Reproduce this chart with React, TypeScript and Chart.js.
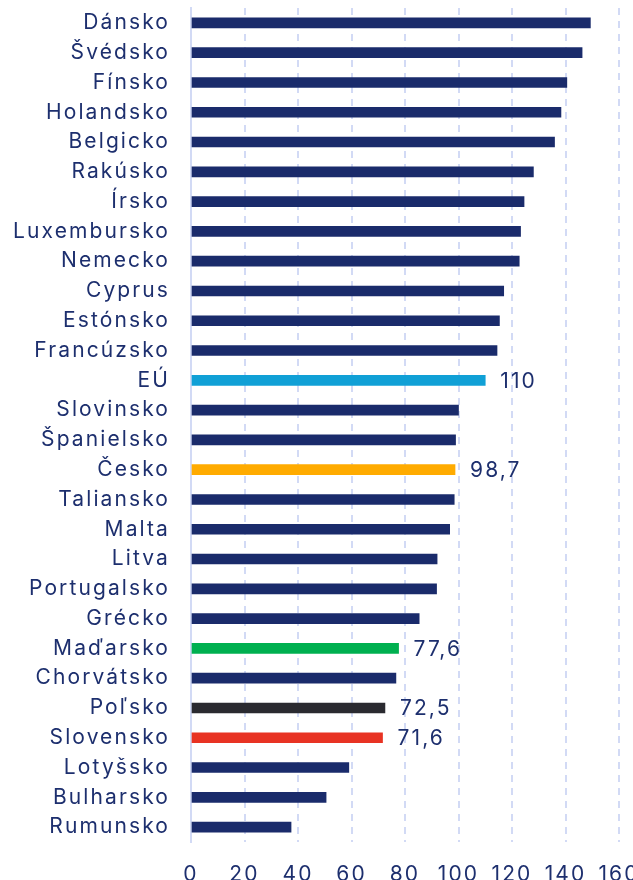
import React, { useEffect, useRef } from 'react';
import { Chart, registerables } from 'chart.js';

Chart.register(...registerables);

const categories = [
  'Dánsko', 'Švédsko', 'Fínsko', 'Holandsko', 'Belgicko', 'Rakúsko', 'Írsko',
  'Luxembursko', 'Nemecko', 'Cyprus', 'Estónsko', 'Francúzsko', 'EÚ', 'Slovinsko',
  'Španielsko', 'Česko', 'Taliansko', 'Malta', 'Litva', 'Portugalsko', 'Grécko',
  'Maďarsko', 'Chorvátsko', 'Poľsko', 'Slovensko', 'Lotyšsko', 'Bulharsko', 'Rumunsko',
];

const values = [
  149.3, 146.2, 140.5, 138.3, 135.9, 128.0, 124.5,
  123.2, 122.7, 116.9, 115.3, 114.4, 110, 100.0,
  98.9, 98.7, 98.4, 96.7, 92.0, 91.8, 85.3,
  77.6, 76.6, 72.5, 71.6, 59.0, 50.5, 37.4,
];

const labelledCategories = ['EÚ', 'Česko', 'Maďarsko', 'Poľsko', 'Slovensko'];

const xMin = 0;
const xMax = 160;
const xStep = 20;

const NAVY = '#1a2b6b';
const TEXT = '#1d2f6e';
const GRID = '#d2daf5';
const highlightColors: Record<string, string> = {
  'EÚ': '#10a0d6',
  'Česko': '#ffab00',
  'Maďarsko': '#00b050',
  'Poľsko': '#2a2a30',
  'Slovensko': '#e83323',
};

const FONT_FAMILY = 'Inter, "Noto Sans", sans-serif';
const FONT_SIZE = 21;
const LETTER_SPACING = '2.1px';

const fmt = (v: number) => (Number.isInteger(v) ? String(v) : v.toFixed(1).replace('.', ','));

const spacingPlugin = {
  id: 'spacing',
  beforeLayout(chart: any) {
    chart.ctx.letterSpacing = LETTER_SPACING;
  },
  beforeDraw(chart: any) {
    chart.ctx.letterSpacing = LETTER_SPACING;
  },
};

const valueLabelPlugin = {
  id: 'valueLabels',
  afterDatasetsDraw(chart: any) {
    const ctx = chart.ctx;
    const meta = chart.getDatasetMeta(0);
    ctx.save();
    ctx.letterSpacing = LETTER_SPACING;
    ctx.font = `${FONT_SIZE}px ${FONT_FAMILY}`;
    ctx.fillStyle = TEXT;
    ctx.textAlign = 'left';
    ctx.textBaseline = 'middle';
    categories.forEach((c, i) => {
      if (!labelledCategories.includes(c)) return;
      const el = meta.data[i];
      ctx.fillText(fmt(values[i]), el.x + 15, el.y + 1);
    });
    ctx.restore();
  },
};

export default function App() {
  const ref = useRef<HTMLCanvasElement | null>(null);

  useEffect(() => {
    if (!ref.current) return;
    const chart = new Chart(ref.current, {
      type: 'bar',
      data: {
        labels: categories,
        datasets: [
          {
            data: values,
            backgroundColor: categories.map((c) => highlightColors[c] || NAVY),
            barThickness: 10,
            borderWidth: 0,
          },
        ],
      },
      options: {
        indexAxis: 'y',
        animation: false,
        responsive: true,
        maintainAspectRatio: false,
        layout: { padding: { top: 8, right: 14, left: 0, bottom: 0 } },
        plugins: {
          legend: { display: false },
          tooltip: { enabled: false },
        },
        scales: {
          x: {
            min: xMin,
            max: xMax,
            ticks: {
              stepSize: xStep,
              color: TEXT,
              font: { family: FONT_FAMILY, size: FONT_SIZE },
              padding: 20,
              maxRotation: 0,
            },
            grid: { color: GRID, lineWidth: 2, drawTicks: false },
            border: { display: false, dash: [7, 6] },
            afterFit(scale: any) {
              scale.height = 38;
              scale.paddingLeft = 0;
              scale.paddingRight = 0;
            },
          },
          y: {
            ticks: {
              color: TEXT,
              font: { family: FONT_FAMILY, size: FONT_SIZE },
              padding: 21,
            },
            grid: { display: false, drawTicks: false },
            border: { display: true, color: GRID, width: 2 },
            afterFit(scale: any) {
              scale.width = 191;
              scale.paddingTop = 0;
              scale.paddingBottom = 0;
            },
          },
        },
      },
      plugins: [spacingPlugin, valueLabelPlugin],
    });
    return () => chart.destroy();
  }, []);

  return (
    <>
      <style>{'body{margin:0;overflow:hidden;background:#fff}'}</style>
      <div style={{ position: 'relative', width: 633, height: 880 }}>
        <canvas ref={ref} />
      </div>
    </>
  );
}
